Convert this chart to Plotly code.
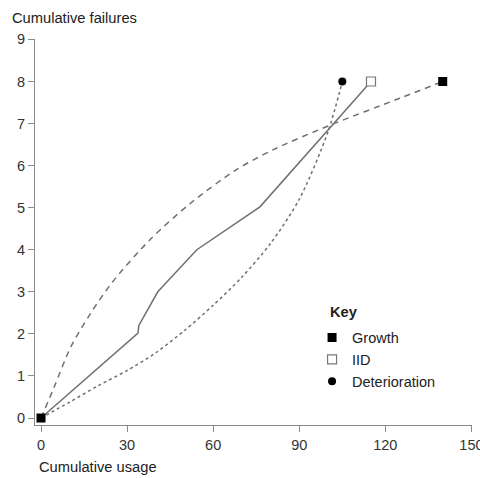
import plotly.graph_objects as go

# Growth (dashed, concave)
growth_x = [0, 4.2, 10.4, 17.4, 25, 38, 52, 68, 81, 100.7, 125, 140]
growth_y = [0, 0.67, 1.69, 2.5, 3.24, 4.24, 5.1, 5.9, 6.38, 6.96, 7.6, 8.0]
# IID (solid, piecewise)
iid_x = [0, 33.8, 34.1, 40.7, 54.3, 76.3, 115]
iid_y = [0, 2.02, 2.2, 3.0, 4.0, 5.02, 8.0]
# Deterioration (dotted, convex)
det_x = [0, 10, 20, 30, 40, 50, 60, 70, 80, 90, 100, 105]
det_y = [0, 0.38, 0.77, 1.13, 1.55, 2.08, 2.68, 3.35, 4.15, 5.2, 6.8, 8.0]

x_ticks = [0, 30, 60, 90, 120, 150]
y_ticks = [0, 1, 2, 3, 4, 5, 6, 7, 8, 9]

LINE = "#707070"
FONT = "Liberation Sans, Arial, sans-serif"

fig = go.Figure()
fig.add_trace(go.Scatter(x=growth_x, y=growth_y, mode="lines",
                         line=dict(color=LINE, width=1.5, dash="6px,5px", shape="spline", smoothing=0.8),
                         showlegend=False, hoverinfo="skip"))
fig.add_trace(go.Scatter(x=det_x, y=det_y, mode="lines",
                         line=dict(color=LINE, width=1.5, dash="3px,3px", shape="spline", smoothing=0.8),
                         showlegend=False, hoverinfo="skip"))
fig.add_trace(go.Scatter(x=iid_x, y=iid_y, mode="lines",
                         line=dict(color=LINE, width=1.5),
                         showlegend=False, hoverinfo="skip"))

# end markers
fig.add_trace(go.Scatter(x=[growth_x[-1], growth_x[0]], y=[growth_y[-1], growth_y[0]], mode="markers",
                         marker=dict(symbol="square", size=9, color="black"),
                         name="Growth"))
fig.add_trace(go.Scatter(x=[iid_x[-1]], y=[iid_y[-1]], mode="markers",
                         marker=dict(symbol="square", size=9, color="white",
                                     line=dict(color="#777777", width=1.2)),
                         name="IID"))
fig.add_trace(go.Scatter(x=[det_x[-1]], y=[det_y[-1]], mode="markers",
                         marker=dict(symbol="circle", size=8, color="black"),
                         name="Deterioration"))

axis_common = dict(showline=True, linecolor="#8a8a8a", linewidth=1.2,
                   ticks="outside", ticklen=6, tickcolor="#8a8a8a", tickwidth=1.2,
                   showgrid=False, zeroline=False, automargin=False,
                   ticklabeloverflow="allow",
                   tickfont=dict(family=FONT, size=14.5, color="#333333"))

fig.update_layout(
    width=480, height=478,
    margin=dict(l=35, r=8, t=39, b=53),
    plot_bgcolor="white", paper_bgcolor="white",
    xaxis=dict(range=[-2.09, 150.2], tickvals=x_ticks, **axis_common),
    yaxis=dict(range=[-0.166, 9.01], tickvals=y_ticks, **axis_common),
    legend=dict(x=0.634, y=0.268, xanchor="left", yanchor="top",
                font=dict(family=FONT, size=14.5, color="#222222"),
                bgcolor="rgba(0,0,0,0)", tracegroupgap=0, itemwidth=30),
    annotations=[
        dict(text="Cumulative failures", xref="paper", yref="paper",
             x=-0.057, y=1.055, xanchor="left", yanchor="middle", showarrow=False,
             font=dict(family=FONT, size=14.7, color="#222222")),
        dict(text="Cumulative usage", xref="paper", yref="paper",
             x=0.005, y=-0.109, xanchor="left", yanchor="middle", showarrow=False,
             font=dict(family=FONT, size=14.7, color="#222222")),
        dict(text="<b>Key</b>", xref="paper", yref="paper",
             x=0.67, y=0.293, xanchor="left", yanchor="middle", showarrow=False,
             font=dict(family=FONT, size=14.7, color="#222222")),
    ],
)

fig.write_html("out.html", config={"displayModeBar": False},
               post_script="document.body.style.margin='0';document.body.style.padding='0';")
